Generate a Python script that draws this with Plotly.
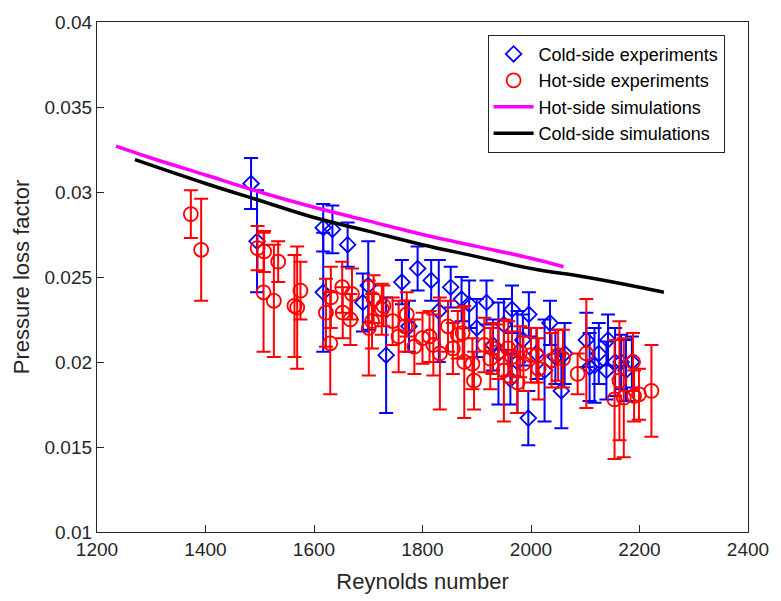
import plotly.graph_objects as go

# Cold-side experiments: Reynolds number, pressure loss factor, half-width of error bar
cold_re = [1484, 1495, 1617, 1634, 1617, 1662, 1690, 1700, 1733, 1762, 1775, 1791, 1816,
           1830, 1852, 1872, 1886, 1900, 1918, 1930, 1940, 1950, 1962, 1965, 1975, 1985,
           1995, 1996, 2010, 2025, 2035, 2045, 2056, 2062, 2102, 2108, 2117, 2125, 2139,
           2142, 2155, 2166, 2175, 2186]
cold_f = [0.0305, 0.0271, 0.0279, 0.0278, 0.0241, 0.0269, 0.0235, 0.0245, 0.0204, 0.0247,
          0.0221, 0.0255, 0.0248, 0.0230, 0.0244, 0.0237, 0.0234, 0.0220, 0.0235, 0.0210,
          0.0205, 0.0222, 0.0190, 0.0231, 0.0200, 0.0213, 0.0167, 0.0228, 0.0205, 0.0195,
          0.0223, 0.0203, 0.0183, 0.0205, 0.0213, 0.0197, 0.0198, 0.0205, 0.0195, 0.0213,
          0.0200, 0.0200, 0.0195, 0.0200]
cold_err = [0.0015, 0.0030, 0.0014, 0.0014, 0.0035, 0.0013, 0.0017, 0.0026, 0.0034, 0.0013,
            0.0015, 0.0013, 0.0012, 0.0030, 0.0012, 0.0013, 0.0014, 0.0017, 0.0013, 0.0015,
            0.0030, 0.0015, 0.0015, 0.0014, 0.0030, 0.0015, 0.0016, 0.0013, 0.0015, 0.0030,
            0.0013, 0.0016, 0.0022, 0.0018, 0.0016, 0.0020, 0.0022, 0.0018, 0.0017, 0.0015,
            0.0020, 0.0016, 0.0018, 0.0015]

# Hot-side experiments
hot_re = [1373, 1392, 1496, 1508, 1507, 1526, 1534, 1564, 1569, 1575, 1622, 1630, 1631,
          1652, 1653, 1667, 1670, 1701, 1707, 1710, 1725, 1728, 1745, 1756, 1768, 1771,
          1785, 1800, 1813, 1820, 1832, 1847, 1856, 1865, 1874, 1877, 1892, 1895, 1914,
          1925, 1929, 1940, 1950, 1958, 1965, 1975, 1980, 1986, 2000, 2011, 2014, 2038,
          2050, 2059, 2086, 2102, 2154, 2163, 2171, 2188, 2190, 2199, 2222]
hot_f = [0.0287, 0.0266, 0.0267, 0.0265, 0.0241, 0.0236, 0.0259, 0.0233, 0.0232, 0.0242,
         0.0229, 0.0211, 0.0238, 0.0244, 0.0229, 0.0225, 0.0240, 0.0220, 0.0224, 0.0237,
         0.0231, 0.0233, 0.0224, 0.0215, 0.0221, 0.0228, 0.0209, 0.0214, 0.0215, 0.0210,
         0.0205, 0.0221, 0.0208, 0.0216, 0.0217, 0.0200, 0.0199, 0.0189, 0.0210, 0.0202,
         0.0208, 0.0206, 0.0195, 0.0208, 0.0203, 0.0188, 0.0206, 0.0199, 0.0204, 0.0204,
         0.0196, 0.0201, 0.0204, 0.0202, 0.0193, 0.0205, 0.0178, 0.0189, 0.0179, 0.0200,
         0.0180, 0.0181, 0.0183]
hot_err = [0.0014, 0.0030, 0.0013, 0.0012, 0.0035, 0.0033, 0.0012, 0.0030, 0.0036, 0.0017,
           0.0020, 0.0030, 0.0018, 0.0015, 0.0015, 0.0015, 0.0015, 0.0028, 0.0016, 0.0014,
           0.0015, 0.0012, 0.0014, 0.0021, 0.0015, 0.0013, 0.0016, 0.0015, 0.0015, 0.0018,
           0.0033, 0.0015, 0.0015, 0.0014, 0.0015, 0.0033, 0.0015, 0.0017, 0.0016, 0.0018,
           0.0015, 0.0016, 0.0030, 0.0016, 0.0015, 0.0018, 0.0015, 0.0016, 0.0016, 0.0016,
           0.0018, 0.0016, 0.0015, 0.0017, 0.0012, 0.0032, 0.0035, 0.0035, 0.0035, 0.0017,
           0.0015, 0.0015, 0.0027]

# Simulation curves
hot_sim_re = [1235, 1300, 1400, 1500, 1600, 1700, 1800, 1900, 2000, 2060]
hot_sim_f = [0.0327, 0.0320, 0.0310, 0.0300, 0.0291, 0.0283, 0.0275, 0.0268, 0.0261, 0.0256]
cold_sim_re = [1270, 1400, 1500, 1600, 1700, 1800, 1900, 2000, 2100, 2200, 2245]
cold_sim_f = [0.0319, 0.0305, 0.0295, 0.0285, 0.0277, 0.0269, 0.0262, 0.0255, 0.0250, 0.0244, 0.0241]

x_ticks = [1200, 1400, 1600, 1800, 2000, 2200, 2400]
y_ticks = [0.01, 0.015, 0.02, 0.025, 0.03, 0.035, 0.04]
y_tick_text = ["0.01", "0.015", "0.02", "0.025", "0.03", "0.035", "0.04"]

FONT = "Liberation Sans, Arial, sans-serif"
AXIS_COLOR = "#262626"

fig = go.Figure()

fig.add_trace(go.Scatter(
    x=cold_re, y=cold_f, mode="markers", name="Cold-side experiments",
    marker=dict(symbol="diamond-open", size=12, color="#0000FF", line=dict(width=1.8)),
    error_y=dict(type="data", array=cold_err, visible=True, color="#0000FF",
                 thickness=2, width=7),
))
fig.add_trace(go.Scatter(
    x=hot_re, y=hot_f, mode="markers", name="Hot-side experiments",
    marker=dict(symbol="circle-open", size=14, color="#FF0000", line=dict(width=1.8)),
    error_y=dict(type="data", array=hot_err, visible=True, color="#FF0000",
                 thickness=2, width=7),
))
fig.add_trace(go.Scatter(
    x=hot_sim_re, y=hot_sim_f, mode="lines", name="Hot-side simulations",
    line=dict(color="#FF00FF", width=3.5, shape="spline"),
))
fig.add_trace(go.Scatter(
    x=cold_sim_re, y=cold_sim_f, mode="lines", name="Cold-side simulations",
    line=dict(color="#000000", width=3.5, shape="spline"),
))

axis_common = dict(
    showgrid=False, zeroline=False, showline=True, linecolor=AXIS_COLOR, linewidth=1.3,
    mirror=True, ticks="inside", ticklen=7, tickcolor=AXIS_COLOR,
    tickfont=dict(family=FONT, size=19, color=AXIS_COLOR),
)

fig.update_xaxes(
    range=[1200, 2400], tickvals=x_ticks, ticktext=[str(v) for v in x_ticks],
    title=dict(text="Reynolds number", font=dict(family=FONT, size=22, color=AXIS_COLOR),
               standoff=14),
    **axis_common,
)
fig.update_yaxes(
    range=[0.01, 0.04], tickvals=y_ticks, ticktext=y_tick_text,
    title=dict(text="Pressure loss factor", font=dict(family=FONT, size=22, color=AXIS_COLOR),
               standoff=8),
    **axis_common,
)

fig.update_layout(
    width=781, height=601,
    margin=dict(l=97, r=26, t=15, b=69),
    plot_bgcolor="white", paper_bgcolor="white",
    font=dict(family=FONT, size=18, color="#000000"),
    legend=dict(
        x=0.60, y=0.975, xanchor="left", yanchor="top",
        bgcolor="white", bordercolor=AXIS_COLOR, borderwidth=1,
        font=dict(family=FONT, size=18, color="#000000"),
        itemwidth=40, tracegroupgap=0,
    ),
    showlegend=True,
)

fig.write_html("out.html")
